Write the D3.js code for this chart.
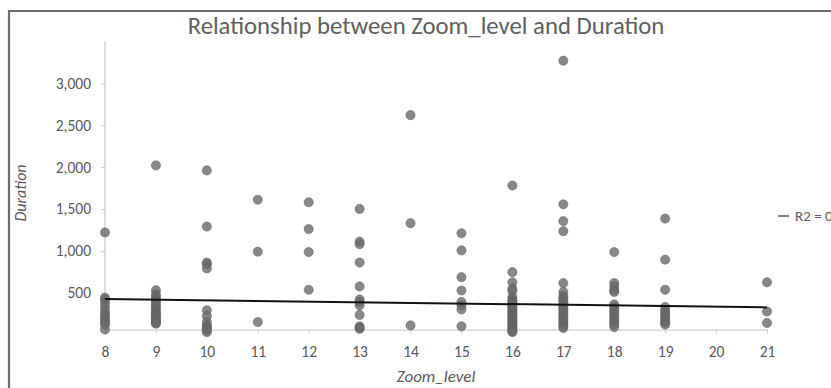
<!DOCTYPE html>
<html><head><meta charset="utf-8">
<script src="https://cdn.jsdelivr.net/npm/d3@7"></script>
<style>
html,body{margin:0;padding:0;background:#fff;overflow:hidden;}
svg{display:block;}
text{font-family:"Carlito","Liberation Sans Narrow","DejaVu Sans Condensed","Open Sans",sans-serif;}
</style></head>
<body>
<svg id="c" width="831" height="388"></svg>
<script>
const zoomLevels = [8,9,10,11,12,13,14,15,16,17,18,19,20,21];
const xTickLabels = ["8","9","10","11","12","13","14","15","16","17","18","19","20","21"];
const yTickValues = [500,1000,1500,2000,2500,3000];
const durationByZoom = {
  8:  [1220,440,420,380,330,280,240,210,180,150,120,60],
  9:  [2020,530,480,450,420,400,370,340,310,280,260,240,220,200,180,160,140,130],
  10: [1960,1290,860,840,790,290,220,150,110,90,70,50,30],
  11: [1610,990,150],
  12: [1580,1260,985,535],
  13: [1500,1110,1080,860,575,420,390,350,235,100,80,70],
  14: [2620,1330,110],
  15: [1210,1005,686,527,390,350,300,100],
  16: [1780,745,625,550,520,450,420,400,380,360,340,320,300,280,260,240,220,200,180,160,140,120,100,80,60,40,30],
  17: [3270,1555,1355,1235,615,510,460,430,400,370,340,310,280,250,220,190,160,130,100,80],
  18: [985,615,575,530,510,360,330,300,270,240,210,180,150,120,90],
  19: [1385,895,535,330,290,260,230,200,170,140,120],
  20: [],
  21: [625,275,140]
};
const trendEnds = [[8,425],[21,325]];
const legendLabel = "R2 = 0.0031";
const titleText = "Relationship between Zoom_level and Duration";

const points = [];
zoomLevels.forEach(z => (durationByZoom[z]||[]).forEach(v => points.push({z, v})));

const FONT = '"Carlito","Liberation Sans Narrow","DejaVu Sans Condensed","Open Sans",sans-serif';
const svg = d3.select("#c");
const x = d3.scaleLinear().domain([8,21]).range([105,767]);
const y = d3.scaleLinear().domain([60,3500]).range([329.6,41.4]);

// frame
svg.append("path").attr("d","M9,400 V11 H840").attr("fill","none")
  .attr("stroke","#6b6b6b").attr("stroke-width",2.2);

// title
const t = svg.append("text").attr("x",426).attr("y",34).attr("text-anchor","middle")
  .attr("fill","#606060").style("font-size","20px").text(titleText);
const tw = t.node().getComputedTextLength();
t.style("font-size",(20*477/tw).toFixed(2)+"px");

// axes
const axisColor = "#d0d0d0", labelColor = "#595959";
const gx = svg.append("g").attr("transform",`translate(0,${y(60)})`)
  .call(d3.axisBottom(x).tickValues(zoomLevels).tickFormat((d,i)=>xTickLabels[i]).tickSize(4).tickSizeOuter(0).tickPadding(12));
const gy = svg.append("g").attr("transform",`translate(${x(8)},0)`)
  .call(d3.axisLeft(y).tickValues(yTickValues).tickFormat(d3.format(",")).tickSize(4).tickSizeOuter(0).tickPadding(10));
[gx,gy].forEach(g=>{
  g.select(".domain").attr("stroke",axisColor).attr("stroke-width",1.4);
  g.selectAll(".tick line").attr("stroke",axisColor);
  g.selectAll(".tick text").attr("fill",labelColor).style("font-size","15.5px").style("font-family",FONT);
});
gy.select(".domain").attr("d",`M0,${y(60)}V${y(3500)}`);

// axis titles
svg.append("text").attr("x",436).attr("y",382).attr("text-anchor","middle")
  .attr("fill",labelColor).style("font-size","17px").style("font-style","italic").text("Zoom_level");
svg.append("text").attr("transform","translate(26,193) rotate(-90)").attr("text-anchor","middle")
  .attr("fill",labelColor).style("font-size","16px").style("font-style","italic").text("Duration");

// points
svg.append("g").selectAll("circle").data(points).join("circle")
  .attr("cx",d=>x(d.z)).attr("cy",d=>y(d.v)).attr("r",4.6)
  .attr("fill","#6a6a6a").attr("fill-opacity",0.8)
  .attr("stroke","#585858").attr("stroke-opacity",0.6).attr("stroke-width",0.8);

// trend line
svg.append("line").attr("x1",x(trendEnds[0][0])).attr("y1",y(trendEnds[0][1]))
  .attr("x2",x(trendEnds[1][0])).attr("y2",y(trendEnds[1][1]))
  .attr("stroke","#111").attr("stroke-width",2);

// legend
svg.append("line").attr("x1",778).attr("x2",789).attr("y1",216).attr("y2",216)
  .attr("stroke","#595959").attr("stroke-width",1.5);
svg.append("text").attr("x",795).attr("y",221).attr("fill",labelColor)
  .style("font-size","15px").text(legendLabel);
</script>
</body></html>
